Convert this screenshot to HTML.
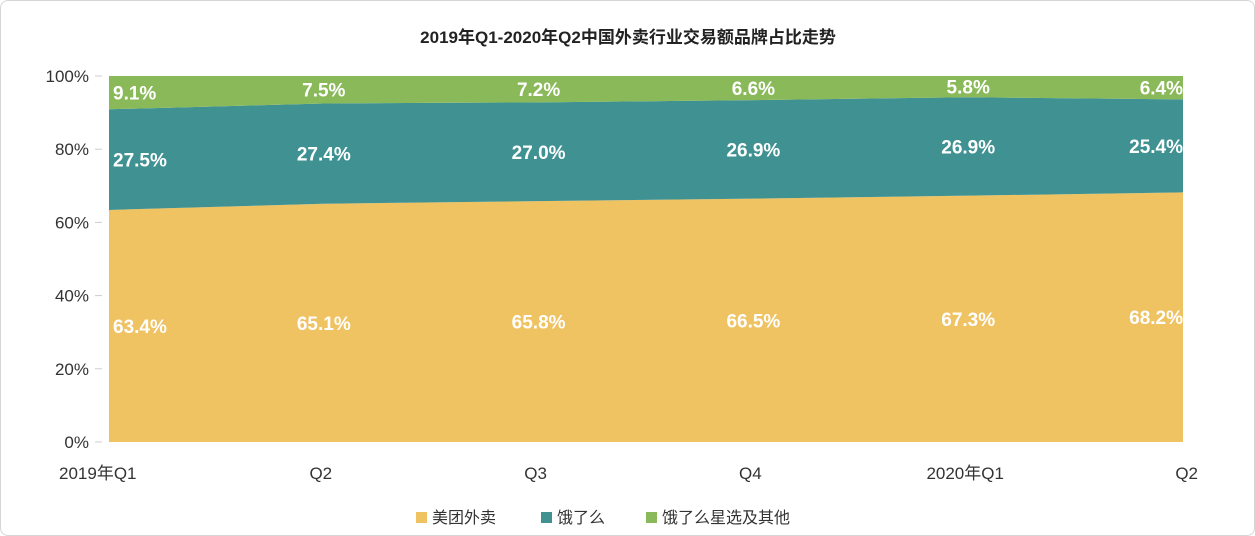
<!DOCTYPE html>
<html><head><meta charset="utf-8">
<style>
body{margin:0;background:#fff;}
.wrap{position:relative;width:1253px;height:534px;border:1px solid #d6d6d6;border-radius:8px;background:#fff;overflow:hidden;font-family:"Liberation Sans","Noto Sans CJK SC",sans-serif;}
</style></head>
<body>
<div class="wrap">
<svg id="chart" width="1255" height="536"></svg>
</div>
<script>
const categories=["2019年Q1","Q2","Q3","Q4","2020年Q1","Q2"];
const meituan=[63.4,65.1,65.8,66.5,67.3,68.2];
const eleme=[27.5,27.4,27.0,26.9,26.9,25.4];
const others=[9.1,7.5,7.2,6.6,5.8,6.4];
const yTicks=[0,20,40,60,80,100];
const seriesNames=["美团外卖","饿了么","饿了么星选及其他"];
const colors=["#EFC262","#409292","#8AB95A"];

const NS="http://www.w3.org/2000/svg";
const svg=document.getElementById('chart');
const X0=108,X1=1182,Y0=441,Y1=75;
const x=i=>X0+(X1-X0)*i/(categories.length-1);
const y=v=>Y0-(Y0-Y1)*v/100;
function el(t,a){const e=document.createElementNS(NS,t);for(const k in a)e.setAttribute(k,a[k]);svg.appendChild(e);return e;}

const title=el('text',{x:627,y:42,'text-anchor':'middle','font-size':17,'font-weight':'bold',fill:'#222'});
title.textContent="2019年Q1-2020年Q2中国外卖行业交易额品牌占比走势";



yTicks.forEach(t=>{
  const tx=el('text',{x:88,y:y(t)+6,'text-anchor':'end','font-size':17,fill:'#333'});
  tx.textContent=t+"%";
  
  
  const tk=el('line',{x1:94,x2:101,y1:y(t),y2:y(t),stroke:'#ccc'});
  
  
});

const series=[meituan,eleme,others];
const base=categories.map(()=>0);
series.forEach((s,si)=>{
  const lo=base.slice();
  const hi=base.map((b,i)=>b+s[i]);
  let d="";
  hi.forEach((v,i)=>d+=(i?"L":"M")+x(i)+","+y(v));
  for(let i=lo.length-1;i>=0;i--)d+="L"+x(i)+","+y(lo[i]);
  const p=el('path',{d:d+"Z",fill:colors[si]});
  
  
  s.forEach((v,i)=>{
    const anchor=i===0?'start':(i===s.length-1?'end':'middle');
    const dx=i===0?4:0;
    const t=el('text',{x:x(i)+dx,y:y(lo[i]+v/2)+7,'text-anchor':anchor,'font-size':19,'font-weight':'bold',fill:'#fff'});
    t.textContent=v.toFixed(1)+"%";
    
    
  });
  for(let i=0;i<base.length;i++)base[i]=hi[i];
});

categories.forEach((c,i)=>{
  const anchor=i===0?'start':(i===categories.length-1?'end':'middle');
  const xx=i===0?58:(i===categories.length-1?x(i)+15:x(i)-3);
  const t=el('text',{x:xx,y:478,'text-anchor':anchor,'font-size':17,fill:'#333'});
  t.textContent=c;
  
  
});

const lx=[415,540,645];
seriesNames.forEach((n,i)=>{
  const r=el('rect',{x:lx[i],y:511,width:11,height:11,fill:colors[i]});
  
  
  const t=el('text',{x:lx[i]+16,y:522,'font-size':16,fill:'#333'});
  t.textContent=n;
  
  
});
</script>
</body></html>
